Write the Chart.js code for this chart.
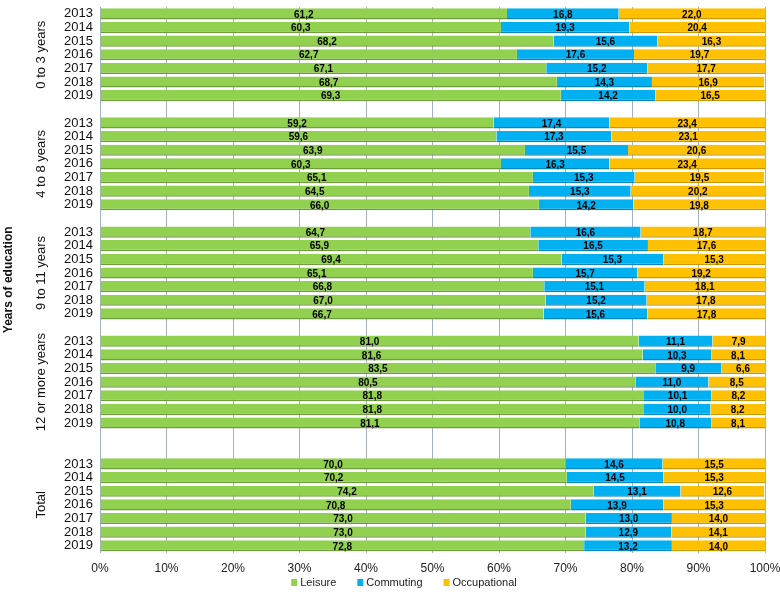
<!DOCTYPE html>
<html>
<head>
<meta charset="utf-8">
<script src="https://cdn.jsdelivr.net/npm/chart.js@4.4.1/dist/chart.umd.min.js"></script>
<style>
  body { margin: 0; background: #fff; }
</style>
</head>
<body>
<canvas id="myChart" width="780" height="593"></canvas>
<script>
const years = ["2013", "2014", "2015", "2016", "2017", "2018", "2019"];
const groups = ["0 to 3 years", "4 to 8 years", "9 to 11 years", "12 or more years", "Total"];

const leisure = [
  [61.2, 60.3, 68.2, 62.7, 67.1, 68.7, 69.3],
  [59.2, 59.6, 63.9, 60.3, 65.1, 64.5, 66.0],
  [64.7, 65.9, 69.4, 65.1, 66.8, 67.0, 66.7],
  [81.0, 81.6, 83.5, 80.5, 81.8, 81.8, 81.1],
  [70.0, 70.2, 74.2, 70.8, 73.0, 73.0, 72.8],
];
const commuting = [
  [16.8, 19.3, 15.6, 17.6, 15.2, 14.3, 14.2],
  [17.4, 17.3, 15.5, 16.3, 15.3, 15.3, 14.2],
  [16.6, 16.5, 15.3, 15.7, 15.1, 15.2, 15.6],
  [11.1, 10.3, 9.9, 11.0, 10.1, 10.0, 10.8],
  [14.6, 14.5, 13.1, 13.9, 13.0, 12.9, 13.2],
];
const occupational = [
  [22.0, 20.4, 16.3, 19.7, 17.7, 16.9, 16.5],
  [23.4, 23.1, 20.6, 23.4, 19.5, 20.2, 19.8],
  [18.7, 17.6, 15.3, 19.2, 18.1, 17.8, 17.8],
  [7.9, 8.1, 6.6, 8.5, 8.2, 8.2, 8.1],
  [15.5, 15.3, 12.6, 15.3, 14.0, 14.1, 14.0],
];
const xTicks = [0, 10, 20, 30, 40, 50, 60, 70, 80, 90, 100];

// flatten groups into one category axis, with empty rows between groups
const labels = [];
const dLeisure = [], dCommuting = [], dOccupational = [];
const groupMid = [];
groups.forEach((g, i) => {
  const blanks = i === 0 ? 0 : (i === groups.length - 1 ? 2 : 1);
  for (let b = 0; b < blanks; b++) {
    labels.push("");
    dLeisure.push(null); dCommuting.push(null); dOccupational.push(null);
  }
  groupMid.push(labels.length + 3);
  years.forEach((y, j) => {
    labels.push(y);
    dLeisure.push(leisure[i][j]);
    dCommuting.push(commuting[i][j]);
    dOccupational.push(occupational[i][j]);
  });
});

const FONT = "'Liberation Sans', Arial, sans-serif";
const fmt = v => v.toFixed(1).replace(".", ",");

const valueLabels = {
  id: "valueLabels",
  afterDatasetsDraw(chart) {
    const c = chart.ctx;
    c.save();
    c.font = "bold 10px " + FONT;
    c.fillStyle = "#000";
    c.textAlign = "center";
    c.textBaseline = "middle";
    chart.data.datasets.forEach((ds, di) => {
      chart.getDatasetMeta(di).data.forEach((bar, k) => {
        const v = ds.data[k];
        if (v == null) return;
        c.fillText(fmt(v), (bar.x + bar.base) / 2, bar.y + 1);
      });
    });
    c.restore();
  }
};

// group names, rotated, left of the year labels
const groupLabels = {
  id: "groupLabels",
  afterDraw(chart) {
    const c = chart.ctx;
    const ys = chart.scales.y;
    c.save();
    c.font = "13px " + FONT;
    c.fillStyle = "#111";
    c.textAlign = "center";
    c.textBaseline = "middle";
    groups.forEach((g, i) => {
      const y = ys.getPixelForValue(groupMid[i]);
      c.save();
      c.translate(41, y);
      c.rotate(-Math.PI / 2);
      c.fillText(g, 0, 0);
      c.restore();
    });
    c.restore();
  }
};

// small legend at the bottom
const bottomLegend = {
  id: "bottomLegend",
  afterDraw(chart) {
    const c = chart.ctx;
    c.save();
    c.font = "11px " + FONT;
    c.textBaseline = "middle";
    const items = chart.data.datasets.map(ds => ({ text: ds.label, color: ds.backgroundColor }));
    const gap = 21, box = 6, boxGap = 3;
    const widths = items.map(it => box + boxGap + c.measureText(it.text).width);
    const total = widths.reduce((a, b) => a + b, 0) + gap * (items.length - 1);
    let x = 404 - total / 2;
    const y = 583;
    items.forEach((it, i) => {
      c.fillStyle = it.color;
      c.fillRect(x, y - 4, box, 7);
      c.fillStyle = "#222";
      c.fillText(it.text, x + box + boxGap, y);
      x += widths[i] + gap;
    });
    c.restore();
  }
};

const edge = { top: 0, left: 0, right: 0, bottom: 1.5 };

new Chart(document.getElementById("myChart"), {
  type: "bar",
  data: {
    labels: labels,
    datasets: [
      {
        label: "Leisure",
        data: dLeisure,
        backgroundColor: "#92D050",
        borderColor: "#6E9E3C",
        borderWidth: edge,
        borderSkipped: false,
      },
      {
        label: "Commuting",
        data: dCommuting,
        backgroundColor: "#00B0F0",
        borderColor: "#0088BC",
        borderWidth: edge,
        borderSkipped: false,
      },
      {
        label: "Occupational",
        data: dOccupational,
        backgroundColor: "#FFC000",
        borderColor: "#CC9A00",
        borderWidth: edge,
        borderSkipped: false,
      },
    ],
  },
  options: {
    indexAxis: "y",
    responsive: false,
    animation: false,
    categoryPercentage: 1,
    barPercentage: 0.82,
    layout: { padding: { top: 7, right: 0, left: 0, bottom: 8 } },
    plugins: {
      tooltip: { enabled: false },
      legend: { display: false },
    },
    scales: {
      x: {
        stacked: true,
        min: 0,
        max: 100,
        afterBuildTicks: s => { s.ticks = xTicks.map(v => ({ value: v })); },
        afterFit: s => { s.paddingRight = 15; s.paddingLeft = 0; },
        ticks: {
          callback: v => v + "%",
          color: "#222",
          padding: 9,
          font: { family: FONT, size: 12 },
        },
        grid: { color: "#A3B0C6", drawTicks: false },
        border: { display: false },
      },
      y: {
        stacked: true,
        afterFit: s => { s.width = 100; s.paddingTop = 0; s.paddingBottom = 0; },
        grid: { display: false, drawTicks: false },
        border: { display: false },
        ticks: {
          autoSkip: false,
          color: "#111",
          padding: 7,
          font: { family: FONT, size: 13 },
        },
        title: {
          display: true,
          text: "Years of education",
          color: "#111",
          padding: { top: 1, bottom: 0 },
          font: { family: FONT, size: 12, weight: "bold" },
        },
      },
    },
  },
  plugins: [valueLabels, groupLabels, bottomLegend],
});
</script>
</body>
</html>
